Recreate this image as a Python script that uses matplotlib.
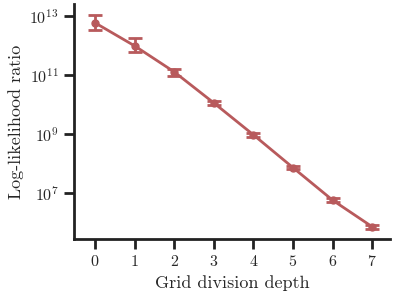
import numpy as np
import matplotlib.pyplot as plt
import seaborn as sns

sns.set_style("ticks")
plt.rcParams["font.family"] = ["cmr10", "DejaVu Serif"]
plt.rcParams["mathtext.fontset"] = "cm"
plt.rcParams["axes.formatter.use_mathtext"] = True

# Values (log10 scale)
depth = [0, 1, 2, 3, 4, 5, 6, 7]
log_mean = [12.76, 11.98, 11.10, 10.05, 8.97, 7.86, 6.76, 5.86]
log_lower = [12.50, 11.76, 10.96, 9.97, 8.90, 7.80, 6.70, 5.80]
log_upper = [13.02, 12.24, 11.20, 10.13, 9.04, 7.92, 6.82, 5.92]

mean = 10 ** np.array(log_mean)
lower = 10 ** np.array(log_lower)
upper = 10 ** np.array(log_upper)

COLOR = "#b85a5c"

fig = plt.figure(figsize=(3.98, 2.99), dpi=100)
ax = fig.add_axes([0.186, 0.2, 0.794, 0.787])

ax.errorbar(depth, mean, yerr=[mean - lower, upper - mean], color=COLOR,
            lw=2, marker="o", markersize=5, capsize=5, capthick=2, elinewidth=2)

ax.set_yscale("log")
ax.set_ylim(10 ** 5.44, 10 ** 13.4)
ax.set_xlim(-0.53, 7.45)
ax.set_xticks(depth)
ax.set_yticks([1e7, 1e9, 1e11, 1e13])
ax.minorticks_off()
ax.tick_params(axis="both", labelsize=11.5, width=2, length=7.5, color="#222222")
for s in ["left", "bottom"]:
    ax.spines[s].set_linewidth(2)
    ax.spines[s].set_color("#222222")
sns.despine(ax=ax)

ax.set_xlabel("Grid division depth", fontsize=13)
ax.set_ylabel("Log-likelihood ratio", fontsize=13)

fig.savefig("out.png", dpi=100)
